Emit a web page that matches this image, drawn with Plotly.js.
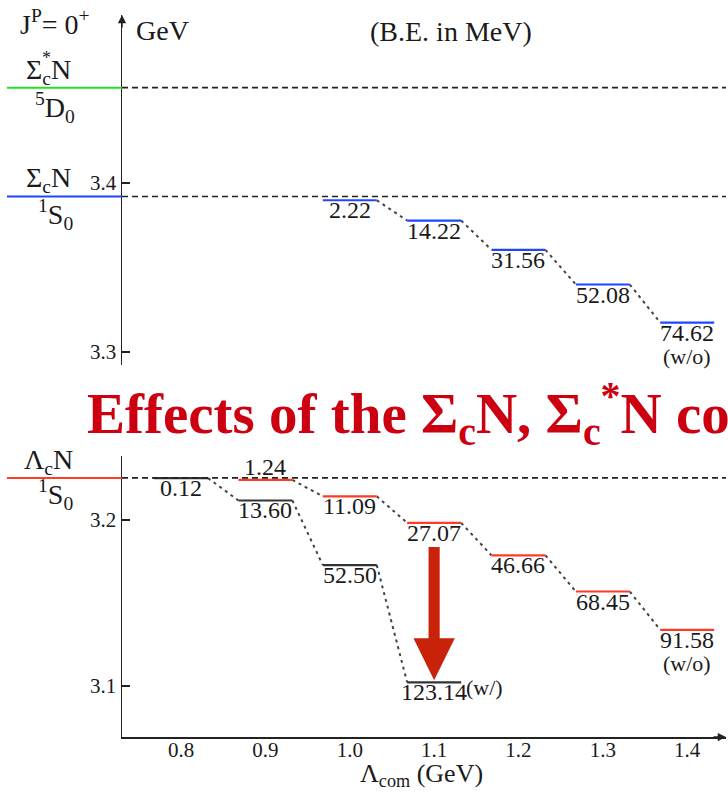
<!DOCTYPE html>
<html>
<head>
<meta charset="utf-8">
<script src="https://cdn.plot.ly/plotly-3.0.1.min.js"></script>
<style>
  html, body { margin: 0; padding: 0; background: #fff; }
  #chart { width: 728px; height: 792px; }
</style>
</head>
<body>
<div id="chart"></div>
<script>
// Two-body thresholds (GeV)
const thrSigmaStarN = 3.4564;   // Σc*N, 5D0
const thrSigmaN = 3.3920;       // ΣcN, 1S0
const thrLambdaN = 3.2254;      // ΛcN, 1S0

// Λcom cut-off values and binding energies (MeV)
const sigmaX = [1.0, 1.1, 1.2, 1.3, 1.4];
const sigmaBE = [2.22, 14.22, 31.56, 52.08, 74.62];

const lamWoX = [0.9, 1.0, 1.1, 1.2, 1.3, 1.4];
const lamWoBE = [1.24, 11.09, 27.07, 46.66, 68.45, 91.58];

const lamWX = [0.8, 0.9, 1.0, 1.1];
const lamWBE = [0.12, 13.60, 52.50, 123.14];

const xTickVals = [0.8, 0.9, 1.0, 1.1, 1.2, 1.3, 1.4];
const xTickText = ['0.8', '0.9', '1.0', '1.1', '1.2', '1.3', '1.4'];
const yTopTicks = [3.3, 3.4];
const yBotTicks = [3.1, 3.2];

// ---- drawing helpers ----
const HALF = 0.032;          // half width of a level bar (GeV on x)
const SERIF = 'Liberation Serif, Times New Roman, serif';
const INK = '#1a1a1a';
const BLUE = '#1e46ff', RED = '#ff3b28', GREEN = '#22e022', ARROW = '#c8220a';

// page-pixel -> paper helpers for free text placement
const L = 122, R = 2, T = 15, B = 55, W = 728, H = 792;
const PW = W - L - R, PH = H - T - B;
const px = p => (p - L) / PW;
const py = p => (H - B - p) / PH;

const mass = (thr, be) => thr - be / 1000;

function levelBars(xs, bes, thr) {
  const x = [], y = [];
  xs.forEach((v, i) => {
    const m = mass(thr, bes[i]);
    x.push(v - HALF, v + HALF, null);
    y.push(m, m, null);
  });
  return { x, y };
}
function connectors(xs, bes, thr) {
  const x = [], y = [];
  for (let i = 0; i + 1 < xs.length; i++) {
    x.push(xs[i] + HALF, xs[i + 1] - HALF, null);
    y.push(mass(thr, bes[i]), mass(thr, bes[i + 1]), null);
  }
  return { x, y };
}

const traces = [];
function addSeries(xs, bes, thr, color, yaxis) {
  const c = connectors(xs, bes, thr);
  traces.push({ type: 'scatter', mode: 'lines', x: c.x, y: c.y, yaxis,
    line: { color: '#444', width: 2, dash: '3px,4px' }, hoverinfo: 'skip', showlegend: false });
  const l = levelBars(xs, bes, thr);
  traces.push({ type: 'scatter', mode: 'lines', x: l.x, y: l.y, yaxis,
    line: { color, width: 2.2 }, hoverinfo: 'skip', showlegend: false });
}
addSeries(sigmaX, sigmaBE, thrSigmaN, BLUE, 'y2');
addSeries(lamWoX, lamWoBE, thrLambdaN, RED, 'y');
addSeries(lamWX, lamWBE, thrLambdaN, '#333', 'y');

// ---- thresholds ----
const shapes = [];
function threshold(y, yref, color) {
  shapes.push({ type: 'line', xref: 'paper', yref, x0: px(7), x1: 0, y0: y, y1: y,
    line: { color, width: 2 } });
  shapes.push({ type: 'line', xref: 'paper', yref, x0: 0, x1: 1, y0: y, y1: y,
    line: { color: '#222', width: 1.6, dash: '6px,4px' } });
}
threshold(thrSigmaStarN, 'y2', GREEN);
threshold(thrSigmaN, 'y2', BLUE);
threshold(thrLambdaN, 'y', RED);

// ---- red arrow: shift of the 1.1 GeV level once the coupling is on ----
(function () {
  const xi = lamWoX.indexOf(1.1), xj = lamWX.indexOf(1.1);
  const xc = lamWoX[xi];
  const yStart = mass(thrLambdaN, lamWoBE[xi]) - 0.0146;
  const yTip = mass(thrLambdaN, lamWBE[xj]) + 0.0012;
  const shaft = 0.0066, head = 0.0245, headLen = 0.0253;
  const yHead = yTip + headLen;
  const p = `M ${xc - shaft},${yStart} L ${xc + shaft},${yStart} L ${xc + shaft},${yHead} ` +
            `L ${xc + head},${yHead} L ${xc},${yTip} L ${xc - head},${yHead} ` +
            `L ${xc - shaft},${yHead} Z`;
  shapes.push({ type: 'path', xref: 'x', yref: 'y', path: p,
    fillcolor: ARROW, line: { width: 0 } });
})();

// ---- annotations ----
const annotations = [];
const txt = (o) => annotations.push(Object.assign({ showarrow: false,
  xanchor: 'center', yanchor: 'middle',
  font: { family: SERIF, size: 24, color: INK } }, o));

function levelLabels(xs, bes, thr, yref, above) {
  xs.forEach((v, i) => {
    const up = above && above.includes(v);
    txt({ xref: 'x', yref, x: v, y: mass(thr, bes[i]), text: bes[i].toFixed(2),
      yanchor: up ? 'bottom' : 'top', yshift: up ? -2 : 5 });
  });
}
levelLabels(sigmaX, sigmaBE, thrSigmaN, 'y2');
levelLabels(lamWoX, lamWoBE, thrLambdaN, 'y', [0.9]);
levelLabels(lamWX, lamWBE, thrLambdaN, 'y');

// series tags
const lastS = sigmaX.length - 1, lastW = lamWoX.length - 1, lastC = lamWX.length - 1;
const tagFont = { family: SERIF, size: 22, color: INK };
txt({ xref: 'x', yref: 'y2', x: sigmaX[lastS], y: mass(thrSigmaN, sigmaBE[lastS]),
  text: '(w/o)', yanchor: 'top', yshift: -19, font: tagFont });
txt({ xref: 'x', yref: 'y', x: lamWoX[lastW], y: mass(thrLambdaN, lamWoBE[lastW]),
  text: '(w/o)', yanchor: 'top', yshift: -19, font: tagFont });
txt({ xref: 'x', yref: 'y', x: lamWX[lastC] + HALF + 0.003, y: mass(thrLambdaN, lamWBE[lastC]),
  text: '(w/)', xanchor: 'left', yanchor: 'middle', yshift: -5, font: tagFont });

// channel labels on the left
const big = { family: SERIF, size: 28, color: INK };
txt({ xref: 'paper', yref: 'paper', x: px(55), y: py(22), text: 'J<sup>P</sup>= 0<sup>+</sup>', font: big });
txt({ xref: 'paper', yref: 'paper', x: px(48), y: py(71), text: 'Σ<sub>c</sub>N', font: big });
txt({ xref: 'paper', yref: 'paper', x: px(46), y: py(58), text: '*', font: { family: SERIF, size: 18, color: INK } });
txt({ xref: 'paper', yref: 'paper', x: px(55), y: py(107), text: '<sup>5</sup>D<sub>0</sub>', font: big });
txt({ xref: 'paper', yref: 'paper', x: px(48), y: py(179), text: 'Σ<sub>c</sub>N', font: big });
txt({ xref: 'paper', yref: 'paper', x: px(55), y: py(214), text: '<sup>1</sup>S<sub>0</sub>', font: big });
txt({ xref: 'paper', yref: 'paper', x: px(48), y: py(461), text: 'Λ<sub>c</sub>N', font: big });
txt({ xref: 'paper', yref: 'paper', x: px(55), y: py(494), text: '<sup>1</sup>S<sub>0</sub>', font: big });

txt({ xref: 'paper', yref: 'paper', x: px(134), y: py(30), xanchor: 'left', text: 'GeV', font: big });
txt({ xref: 'paper', yref: 'paper', x: px(451), y: py(32), text: '(B.E. in MeV)', font: big });

// x-axis title
txt({ xref: 'paper', yref: 'paper', x: px(421), y: py(775), text: 'Λ<sub>com</sub> (GeV)',
  font: { family: SERIF, size: 26, color: INK } });

// banner across the middle
txt({ xref: 'paper', yref: 'paper', x: px(85), y: py(413), xanchor: 'left', yanchor: 'middle',
  text: '<b>Effects of the Σ<sub>c</sub>N, Σ<sub>c</sub><sup>*</sup>N co</b>',
  font: { family: SERIF, size: 57, color: '#cc0011' } });

// axis arrowheads
annotations.push({ xref: 'paper', yref: 'paper', x: 0, y: 1, ax: 0, ay: 14, text: '',
  showarrow: true, arrowhead: 2, arrowsize: 1.1, arrowwidth: 1.5, arrowcolor: '#222' });
annotations.push({ xref: 'paper', yref: 'paper', x: 1, y: 0, ax: -14, ay: 0, text: '',
  showarrow: true, arrowhead: 2, arrowsize: 1.1, arrowwidth: 1.5, arrowcolor: '#222' });

const tickFont = { family: SERIF, size: 21, color: INK };
const layout = {
  width: W, height: H,
  margin: { l: L, r: R, t: T, b: B },
  paper_bgcolor: '#fff', plot_bgcolor: '#fff',
  showlegend: false,
  xaxis: {
    range: [0.73, 1.446], showgrid: false, zeroline: false,
    showline: true, linecolor: '#222', linewidth: 1.5,
    ticks: '', tickvals: xTickVals, ticktext: xTickText, tickfont: tickFont,
    ticklabelstandoff: -7,
    anchor: 'y', fixedrange: true
  },
  yaxis: {
    domain: [0, py(456)], range: [3.0693, 3.2386],
    showgrid: false, zeroline: false, showline: true, linecolor: '#222', linewidth: 1.5,
    ticks: 'inside', ticklen: 8, tickwidth: 1.5, tickcolor: '#222',
    tickvals: yBotTicks, ticktext: yBotTicks.map(v => v.toFixed(1)), tickfont: tickFont,
    anchor: 'x', fixedrange: true
  },
  yaxis2: {
    domain: [py(365), 1], range: [3.2923, 3.4994],
    showgrid: false, zeroline: false, showline: true, linecolor: '#222', linewidth: 1.5,
    ticks: 'inside', ticklen: 8, tickwidth: 1.5, tickcolor: '#222',
    tickvals: yTopTicks, ticktext: yTopTicks.map(v => v.toFixed(1)), tickfont: tickFont,
    anchor: 'x', fixedrange: true
  },
  shapes, annotations
};

Plotly.newPlot('chart', traces, layout, { staticPlot: true, displayModeBar: false });
</script>
</body>
</html>
